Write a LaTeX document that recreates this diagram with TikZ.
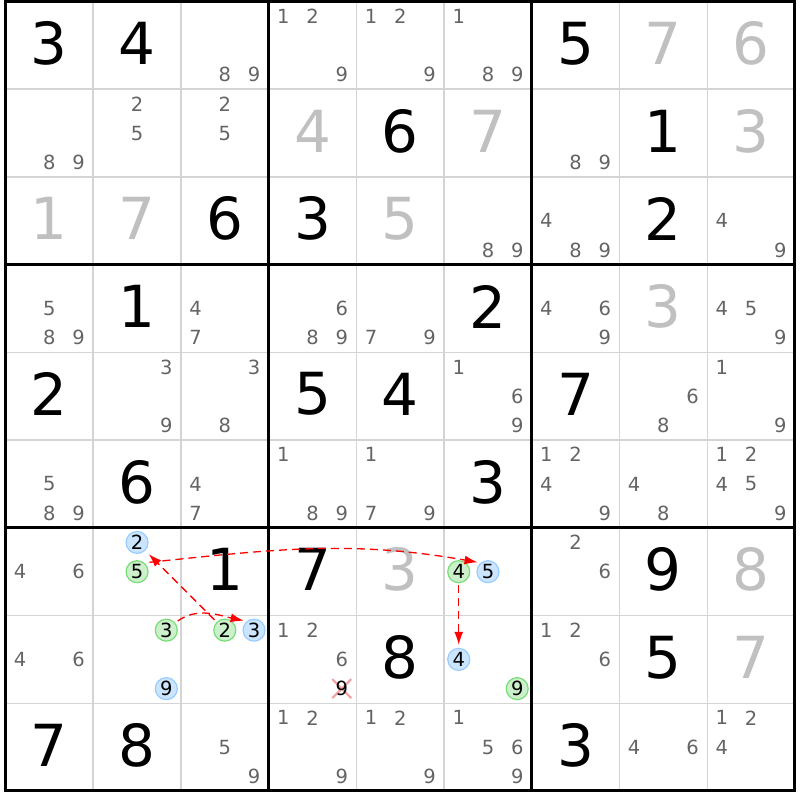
\documentclass[tikz,border=0pt]{standalone}
\usepackage{fontspec}
\setmainfont{DejaVu Sans}
\usepackage{tikz}
\usetikzlibrary{arrows.meta,shapes.misc}

\definecolor{candgray}{HTML}{646464}
\definecolor{solvedgray}{HTML}{C0C0C0}
\definecolor{gridgray}{HTML}{D4D4D4}
\definecolor{onfill}{HTML}{CCE5FF}
\definecolor{ondraw}{HTML}{99CCFF}
\definecolor{offfill}{HTML}{CCF0CC}
\definecolor{offdraw}{HTML}{77DD77}
\definecolor{crossred}{HTML}{F4A0A0}

\tikzset{
	given/.style={font=\fontsize{58}{60}\selectfont, text=black, yshift=2pt},
	solved/.style={given, text=solvedgray},
	cand/.style={font=\fontsize{19.5}{20}\selectfont, text=candgray, inner sep=0pt},
	oncand/.style={cand, text=black, circle, draw=ondraw, fill=onfill, line width=1.2pt, minimum size=22pt},
	offcand/.style={cand, text=black, circle, draw=offdraw, fill=offfill, line width=1.2pt, minimum size=22pt},
	thinline/.style={gridgray, line width=1.5pt},
	boxline/.style={black, line width=3pt},
	link/.style={red, line width=1.3pt, dash pattern=on 8pt off 5pt, -{Latex[length=13pt,width=9pt]}},
}

\newcommand{\clue}[4][given]{\node[#1] (r#2c#3) at (#3-0.5,#2-0.5) {#4};}
\newcommand{\cands}[4][cand]{%
	\foreach \k in {#4}{
		\pgfmathsetmacro{\cx}{#3-1+(2*mod(\k-1,3)+1)/6}
		\pgfmathsetmacro{\cy}{#2-1+(2*floor((\k-1)/3)+1)/6}
		\node[#1] (r#2c#3-\k) at (\cx,\cy) {\k};
	}}

\begin{document}
\begin{tikzpicture}[x=87.72pt, y=-87.72pt]
		\useasboundingbox (-0.0627,-0.0171) rectangle (9.0572,9.1028);

		\foreach \i in {1,2,4,5,7,8} {
			\draw[thinline] (\i,0) -- (\i,9);
			\draw[thinline] (0,\i) -- (9,\i);
		}
		\foreach \i in {3,6} {
			\draw[boxline] (\i,0) -- (\i,9);
			\draw[boxline] (0,\i) -- (9,\i);
		}
		\draw[boxline] (0,0) rectangle (9,9);

		\clue{1}{1}{3} \clue{1}{2}{4} \cands{1}{3}{8,9}
		\cands{1}{4}{1,2,9} \cands{1}{5}{1,2,9} \cands{1}{6}{1,8,9}
		\clue{1}{7}{5} \clue[solved]{1}{8}{7} \clue[solved]{1}{9}{6}

		\cands{2}{1}{8,9} \cands{2}{2}{2,5} \cands{2}{3}{2,5}
		\clue[solved]{2}{4}{4} \clue{2}{5}{6} \clue[solved]{2}{6}{7}
		\cands{2}{7}{8,9} \clue{2}{8}{1} \clue[solved]{2}{9}{3}

		\clue[solved]{3}{1}{1} \clue[solved]{3}{2}{7} \clue{3}{3}{6}
		\clue{3}{4}{3} \clue[solved]{3}{5}{5} \cands{3}{6}{8,9}
		\cands{3}{7}{4,8,9} \clue{3}{8}{2} \cands{3}{9}{4,9}

		\cands{4}{1}{5,8,9} \clue{4}{2}{1} \cands{4}{3}{4,7}
		\cands{4}{4}{6,8,9} \cands{4}{5}{7,9} \clue{4}{6}{2}
		\cands{4}{7}{4,6,9} \clue[solved]{4}{8}{3} \cands{4}{9}{4,5,9}

		\clue{5}{1}{2} \cands{5}{2}{3,9} \cands{5}{3}{3,8}
		\clue{5}{4}{5} \clue{5}{5}{4} \cands{5}{6}{1,6,9}
		\clue{5}{7}{7} \cands{5}{8}{6,8} \cands{5}{9}{1,9}

		\cands{6}{1}{5,8,9} \clue{6}{2}{6} \cands{6}{3}{4,7}
		\cands{6}{4}{1,8,9} \cands{6}{5}{1,7,9} \clue{6}{6}{3}
		\cands{6}{7}{1,2,4,9} \cands{6}{8}{4,8} \cands{6}{9}{1,2,4,5,9}

		\cands{7}{1}{4,6} \cands[oncand]{7}{2}{2} \cands[offcand]{7}{2}{5}
		\clue{7}{3}{1} \clue{7}{4}{7} \clue[solved]{7}{5}{3}
		\cands[offcand]{7}{6}{4} \cands[oncand]{7}{6}{5}
		\cands{7}{7}{2,6} \clue{7}{8}{9} \clue[solved]{7}{9}{8}

		\cands{8}{1}{4,6} \cands[offcand]{8}{2}{3} \cands[oncand]{8}{2}{9}
		\cands[offcand]{8}{3}{2} \cands[oncand]{8}{3}{3}
		\cands{8}{4}{1,2,6}
		\node[cross out, draw=crossred, line width=2pt, minimum size=17pt, inner sep=0pt] (r8c4-del) at (3.8333,7.8333) {};
		\node[cand, text=black] (r8c4-9) at (r8c4-del) {9};
		\clue{8}{5}{8} \cands[oncand]{8}{6}{4} \cands[offcand]{8}{6}{9}
		\cands{8}{7}{1,2,6} \clue{8}{8}{5} \clue[solved]{8}{9}{7}

		\clue{9}{1}{7} \clue{9}{2}{8} \cands{9}{3}{5,9}
		\cands{9}{4}{1,2,9} \cands{9}{5}{1,2,9} \cands{9}{6}{1,5,6,9}
		\clue{9}{7}{3} \cands{9}{8}{4,6} \cands{9}{9}{1,2,4}

		\draw[link, shorten <=3pt, shorten >=3pt] (r8c2-3.40) to[out=35,in=168] (r8c3-3.130);
		\draw[link, shorten <=3pt, shorten >=5pt] (r8c3-2) -- (r7c2-2);
		\draw[link, shorten <=5pt, shorten >=3pt] (r7c2-5.50) to[out=6,in=170] (r7c6-5.130);
		\draw[link, shorten <=2pt, shorten >=3pt] (r7c6-4) -- (r8c6-4);
	\end{tikzpicture}
\end{document}
